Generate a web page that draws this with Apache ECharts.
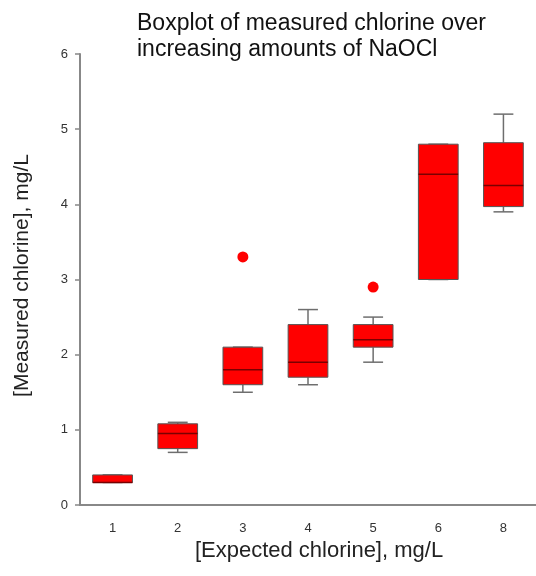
<!DOCTYPE html>
<html>
<head>
<meta charset="utf-8">
<script src="https://cdn.jsdelivr.net/npm/echarts@6/dist/echarts.min.js"></script>
<style>
  html, body { margin: 0; padding: 0; background: #fff; }
  #chart { width: 536px; height: 576px; }
</style>
</head>
<body>
<div id="chart"></div>
<script>
// expected chlorine (mg/L)
var categories = ['1', '2', '3', '4', '5', '6', '8'];
var whiskerLow = [0.3, 0.7, 1.5, 1.6, 1.9, 3.0, 3.9];
var q1 = [0.3, 0.75, 1.6, 1.7, 2.1, 3.0, 3.97];
var median = [0.3, 0.95, 1.8, 1.9, 2.2, 4.4, 4.25];
var q3 = [0.4, 1.08, 2.1, 2.4, 2.4, 4.8, 4.82];
var whiskerHigh = [0.4, 1.1, 2.1, 2.6, 2.5, 4.8, 5.2];
// outliers: [category index, value]
var outliers = [[2, 3.3], [4, 2.9]];

var boxData = categories.map(function (c, i) {
    return [i, whiskerLow[i], q1[i], median[i], q3[i], whiskerHigh[i]];
});

var chart = echarts.init(document.getElementById('chart'));

function renderBox(params, api) {
    var i = api.value(0);
    var bandW = api.size([1, 0])[0];
    var half = bandW * 0.305;
    var cap = half / 2;
    var pLow = api.coord([i, api.value(1)]);
    var pQ1 = api.coord([i, api.value(2)]);
    var pMed = api.coord([i, api.value(3)]);
    var pQ3 = api.coord([i, api.value(4)]);
    var pHigh = api.coord([i, api.value(5)]);
    var x = pQ1[0];
    var wStyle = { stroke: '#6e6e6e', lineWidth: 1.5 };
    return {
        type: 'group',
        children: [
            { type: 'line', shape: { x1: x, y1: pLow[1], x2: x, y2: pQ1[1] }, style: wStyle },
            { type: 'line', shape: { x1: x, y1: pQ3[1], x2: x, y2: pHigh[1] }, style: wStyle },
            { type: 'line', shape: { x1: x - cap, y1: pLow[1], x2: x + cap, y2: pLow[1] }, style: wStyle },
            { type: 'line', shape: { x1: x - cap, y1: pHigh[1], x2: x + cap, y2: pHigh[1] }, style: wStyle },
            {
                type: 'rect',
                shape: { x: x - half, y: pQ3[1], width: half * 2, height: pQ1[1] - pQ3[1] },
                style: { fill: '#ff0000', stroke: '#555', lineWidth: 1 }
            },
            {
                type: 'line',
                shape: { x1: x - half, y1: pMed[1], x2: x + half, y2: pMed[1] },
                style: { stroke: '#7a0000', lineWidth: 1.5 }
            }
        ]
    };
}

var option = {
    animation: false,
    textStyle: { fontFamily: 'Liberation Sans, Arial, sans-serif' },
    title: {
        text: 'Boxplot of measured chlorine over\nincreasing amounts of NaOCl',
        left: 137,
        top: 11,
        padding: 0,
        textStyle: {
            fontSize: 23,
            fontWeight: 'normal',
            color: '#111',
            lineHeight: 26,
            fontFamily: 'Liberation Sans, Arial, sans-serif'
        }
    },
    grid: { left: 80, top: 54, width: 459, bottom: 71 },
    xAxis: {
        type: 'category',
        data: categories,
        name: '[Expected chlorine], mg/L',
        nameLocation: 'middle',
        nameGap: 33,
        nameTextStyle: { fontSize: 22, color: '#222', padding: [0, 0, 0, 22] },
        axisLine: { lineStyle: { color: '#888', width: 2 } },
        axisTick: { alignWithLabel: true, length: 5, lineStyle: { color: '#888', width: 1.5 } },
        axisLabel: { color: '#333', fontSize: 13, margin: 17 }
    },
    yAxis: {
        type: 'value',
        min: 0,
        max: 6,
        interval: 1,
        name: '[Measured chlorine], mg/L',
        nameLocation: 'middle',
        nameGap: 47,
        nameTextStyle: { fontSize: 21, color: '#222', padding: [0, 0, 0, 8] },
        splitLine: { show: false },
        axisLine: { show: true, lineStyle: { color: '#888', width: 2 } },
        axisTick: { show: true, length: 5, lineStyle: { color: '#888', width: 1.5 } },
        axisLabel: { color: '#333', fontSize: 13, margin: 12 }
    },
    series: [
        {
            type: 'custom',
            renderItem: renderBox,
            encode: { x: 0, y: [1, 2, 3, 4, 5] },
            data: boxData,
            z: 2
        },
        {
            type: 'scatter',
            data: outliers,
            symbolSize: 11,
            itemStyle: { color: '#ff0000', opacity: 1 },
            z: 3
        }
    ]
};

chart.setOption(option);
</script>
</body>
</html>
